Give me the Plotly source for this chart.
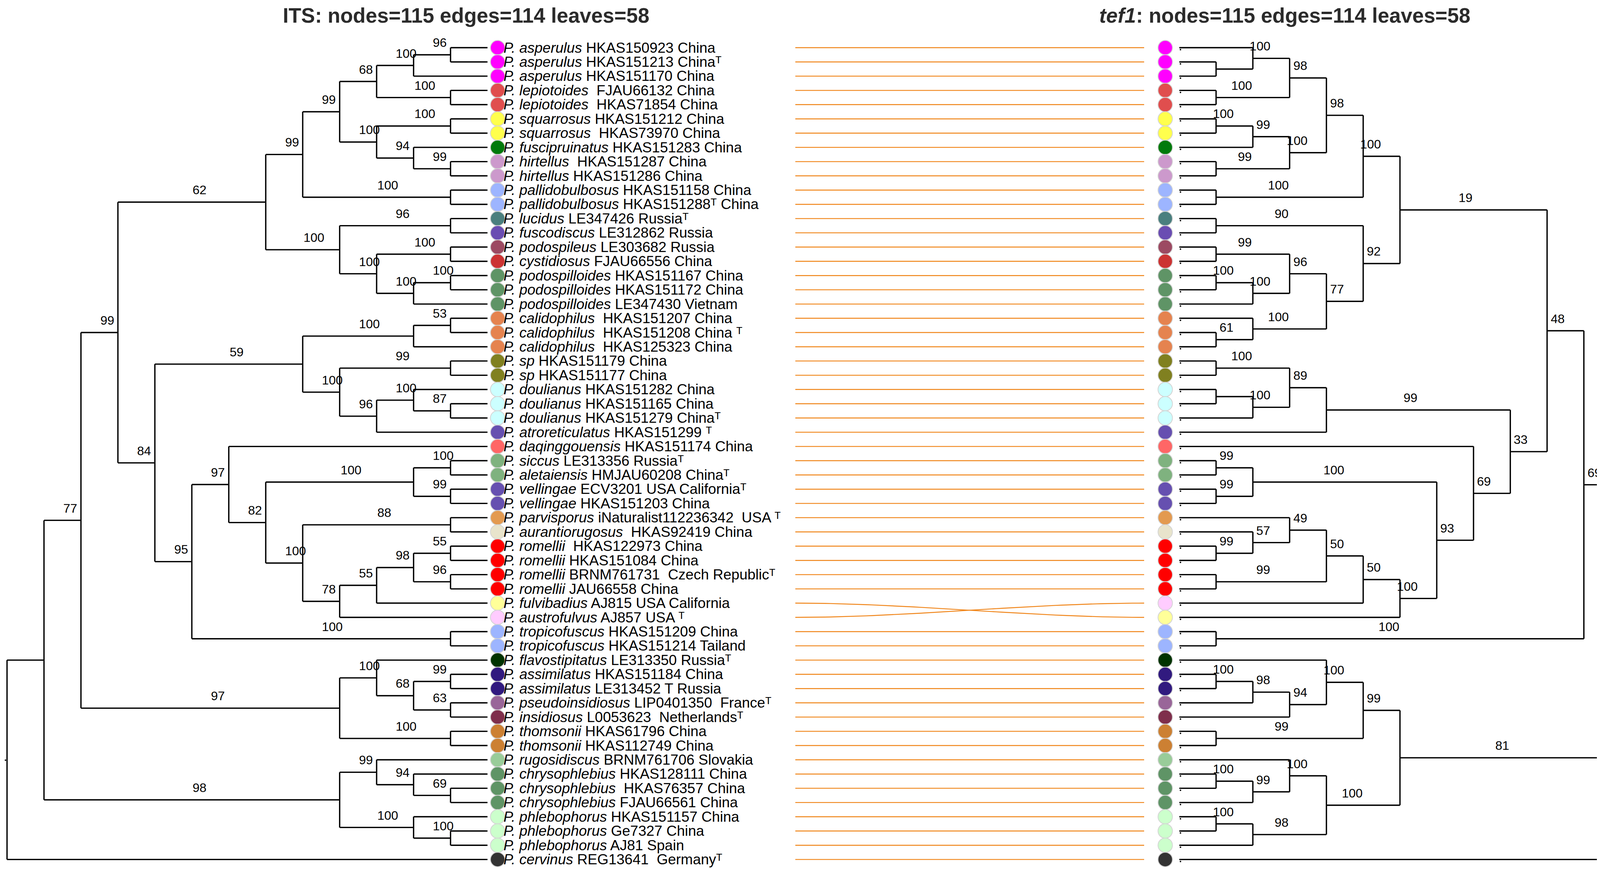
import numpy as np
import plotly.graph_objects as go

# ---------------- data ----------------
LEAF_SPECIES = [
    "asperulus", "asperulus", "asperulus", "lepiotoides", "lepiotoides",
    "squarrosus", "squarrosus", "fuscipruinatus", "hirtellus", "hirtellus",
    "pallidobulbosus", "pallidobulbosus", "lucidus", "fuscodiscus", "podospileus",
    "cystidiosus", "podospilloides", "podospilloides", "podospilloides", "calidophilus",
    "calidophilus", "calidophilus", "sp", "sp", "doulianus",
    "doulianus", "doulianus", "atroreticulatus", "daqinggouensis", "siccus",
    "aletaiensis", "vellingae", "vellingae", "parvisporus", "aurantiorugosus",
    "romellii", "romellii", "romellii", "romellii", "fulvibadius",
    "austrofulvus", "tropicofuscus", "tropicofuscus", "flavostipitatus", "assimilatus",
    "assimilatus", "pseudoinsidiosus", "insidiosus", "thomsonii", "thomsonii",
    "rugosidiscus", "chrysophlebius", "chrysophlebius", "chrysophlebius", "phlebophorus",
    "phlebophorus", "phlebophorus", "cervinus",
]

LEAF_VOUCHERS = [
    "HKAS150923 China", "HKAS151213 China\u1d40", "HKAS151170 China",
    "\u00a0FJAU66132 China", "\u00a0HKAS71854 China",
    "HKAS151212 China", "\u00a0HKAS73970 China", "HKAS151283 China",
    "\u00a0HKAS151287 China", "HKAS151286 China",
    "HKAS151158 China", "HKAS151288\u1d40 China", "LE347426 Russia\u1d40",
    "LE312862 Russia", "LE303682 Russia",
    "FJAU66556 China", "HKAS151167 China", "HKAS151172 China", "LE347430 Vietnam",
    "\u00a0HKAS151207 China",
    "\u00a0HKAS151208 China \u1d40", "\u00a0HKAS125323 China", "HKAS151179 China",
    "HKAS151177 China", "HKAS151282 China",
    "HKAS151165 China", "HKAS151279 China\u1d40", "HKAS151299 \u1d40",
    "HKAS151174 China", "LE313356 Russia\u1d40",
    "HMJAU60208 China\u1d40", "ECV3201 USA California\u1d40", "HKAS151203 China",
    "iNaturalist112236342 \u00a0USA \u1d40", "\u00a0HKAS92419 China",
    "\u00a0HKAS122973 China", "HKAS151084 China", "BRNM761731 \u00a0Czech Republic\u1d40",
    "JAU66558 China", "AJ815 USA California",
    "AJ857 USA \u1d40", "HKAS151209 China", "HKAS151214 Tailand",
    "LE313350 Russia\u1d40", "HKAS151184 China",
    "LE313452 T Russia", "LIP0401350 \u00a0France\u1d40", "L0053623 \u00a0Netherlands\u1d40",
    "HKAS61796 China", "HKAS112749 China",
    "BRNM761706 Slovakia", "HKAS128111 China", "\u00a0HKAS76357 China", "FJAU66561 China",
    "HKAS151157 China",
    "Ge7327 China", "AJ81 Spain", "REG13641 \u00a0Germany\u1d40",
]

SPECIES_COLORS = {
    "asperulus": "#FF00FF", "lepiotoides": "#E04E4E", "squarrosus": "#FFFF4D",
    "fuscipruinatus": "#007A0C", "hirtellus": "#CC99CC", "pallidobulbosus": "#9DB5FF",
    "lucidus": "#4A7F7E", "fuscodiscus": "#6A4DB2", "podospileus": "#9C4A62",
    "cystidiosus": "#CC3333", "podospilloides": "#5F9466", "calidophilus": "#E5834F",
    "sp": "#808020", "doulianus": "#CCFFFF", "atroreticulatus": "#6650B0",
    "daqinggouensis": "#FF6666", "siccus": "#7FB27F", "aletaiensis": "#7FB27F",
    "vellingae": "#6650B0", "parvisporus": "#E39A50", "aurantiorugosus": "#E8E4CC",
    "romellii": "#FF0000", "fulvibadius": "#FFFF99", "austrofulvus": "#FFCCFF",
    "tropicofuscus": "#9DB5FF", "flavostipitatus": "#003300", "assimilatus": "#311A7F",
    "pseudoinsidiosus": "#996699", "insidiosus": "#7F2F4C", "thomsonii": "#CC8033",
    "rugosidiscus": "#99CC99", "chrysophlebius": "#5F9466", "phlebophorus": "#CCFFCC",
    "cervinus": "#333333",
}

# ITS tree topology (leaf numbers = row in ITS tree), support values as internal labels
ITS_A = "((((1,2)96,3)100,(4,5)100)68,((6,7)100,(8,(9,10)99)94)100)99"
ITS_B = "((13,14)96,((15,16)100,((17,18)100,19)100)100)100"
ITS_C = "(((20,21)53,22)100,((23,24)99,((25,(26,27)87)100,28)96)100)59"
ITS_D = "((29,(((30,31)100,(32,33)99)100,((34,35)88,((((36,37)55,(38,39)96)98,40)55,41)78)100)82)97,(42,43)100)95"
ITS_E = "((44,((45,46)99,(47,48)63)68)100,(49,50)100)97"
ITS_F = "((51,(52,(53,54)69)94)99,(55,(56,57)100)100)98"
ITS_NEWICK = ("((((((" + ITS_A + ",(11,12)100)99," + ITS_B + ")62,(" + ITS_C + "," + ITS_D +
              ")84)99," + ITS_E + ")77," + ITS_F + "),58);")

# tef1 tree topology (same leaf numbers)
TEF_A = "(((1,(2,3))100,(4,5)100)98,(((6,7)100,8)99,(9,10)99)100)98"
TEF_D = "(((15,16)99,((17,18)100,19)100)96,(20,(21,22)61)100)77"
TEF_E = "((" + TEF_A + ",(11,12)100)100,((13,14)90," + TEF_D + ")92)19"
TEF_F = "(((23,24)100,((25,26),27)100)89,28)99"
TEF_H = "((((34,(35,(36,37)99)57)49,(38,39)99)50,41)50,40)100"
TEF_G = "(29,(((30,31)99,(32,33)99)100," + TEF_H + ")93)69"
TEF_J = "((44,(((45,46)100,47)98,48)94)100,(49,50)99)99"
TEF_K = "((51,((52,53)100,54)99)100,((55,56)100,57)98)100"
TEF1_NEWICK = ("((((" + TEF_E + ",(" + TEF_F + "," + TEF_G + ")33)48,(42,43)100)69,(" +
               TEF_J + "," + TEF_K + ")81),58);")

TITLE_LEFT = "<b>ITS: nodes=115 edges=114 leaves=58</b>"
TITLE_RIGHT = "<b><i>tef1</i>: nodes=115 edges=114 leaves=58</b>"

# ---------------- geometry / style ----------------
W, H = 4252, 2224
ROW_PX = 36.45
ROW1_PX = 114
LEFT_ROOT_X, LEFT_TIP_X = 10, 1240
RIGHT_ROOT_X, RIGHT_TIP_X = 4235, 3011
LEFT_DOT_X, RIGHT_DOT_X = 1266, 2975
LABEL_X = 1279
CONN_X0, CONN_X1 = 2028, 2921
FONT = "Liberation Sans, Arial, DejaVu Sans, sans-serif"


def parse_newick(s):
    s = s.strip().rstrip(";")
    pos = 0

    def read_token():
        nonlocal pos
        start = pos
        while pos < len(s) and s[pos] not in ",()":
            pos += 1
        return s[start:pos]

    def node():
        nonlocal pos
        if s[pos] == "(":
            pos += 1
            kids = [node()]
            while s[pos] == ",":
                pos += 1
                kids.append(node())
            pos += 1  # ')'
            return {"children": kids, "label": read_token()}
        return {"children": [], "leaf": int(read_token()), "label": ""}

    return node()


def layout(root):
    order = []

    def walk(n):
        if not n["children"]:
            order.append(n["leaf"])
            n["row"] = float(len(order))
            n["h"] = 0
        else:
            for c in n["children"]:
                walk(c)
            n["row"] = float(np.mean([c["row"] for c in n["children"]]))
            n["h"] = max(c["h"] for c in n["children"]) + 1

    walk(root)
    return order


def assign_x(root, x_root, x_tip):
    hmax = root["h"]
    step = (x_tip - x_root) / hmax

    def walk(n):
        n["x"] = x_root + (hmax - n["h"]) * step
        for c in n["children"]:
            walk(c)

    walk(root)


def collect(root):
    xs, ys, labels = [], [], []

    def walk(n):
        if not n["children"]:
            return
        rows = [c["row"] for c in n["children"]]
        xs.extend([n["x"], n["x"], None])
        ys.extend([min(rows), max(rows), None])
        for c in n["children"]:
            xs.extend([n["x"], c["x"], None])
            ys.extend([c["row"], c["row"], None])
            if c["label"]:
                labels.append(((n["x"] + c["x"]) / 2, c["row"], c["label"]))
            walk(c)

    walk(root)
    return xs, ys, labels


its = parse_newick(ITS_NEWICK)
tef = parse_newick(TEF1_NEWICK)
its_order = layout(its)
tef_order = layout(tef)
assign_x(its, LEFT_ROOT_X, LEFT_TIP_X)
assign_x(tef, RIGHT_ROOT_X, RIGHT_TIP_X)

its_row = {leaf: i + 1 for i, leaf in enumerate(its_order)}
tef_row = {leaf: i + 1 for i, leaf in enumerate(tef_order)}

# y axis in row units, mapped so row 1 -> ROW1_PX from top
y_top = 1 - ROW1_PX / ROW_PX
y_bot = y_top + H / ROW_PX

fig = go.Figure()

# connectors
for leaf in its_order:
    y0, y1 = its_row[leaf], tef_row[leaf]
    t = np.linspace(0, 1, 60)
    s = 3 * t ** 2 - 2 * t ** 3
    fig.add_trace(go.Scatter(
        x=CONN_X0 + t * (CONN_X1 - CONN_X0), y=y0 + (y1 - y0) * s,
        mode="lines", line=dict(color="#F08519", width=2.4),
        hoverinfo="skip", showlegend=False))

# tree branches
for root in (its, tef):
    xs, ys, labs = collect(root)
    fig.add_trace(go.Scatter(x=xs, y=ys, mode="lines",
                             line=dict(color="black", width=3.4),
                             hoverinfo="skip", showlegend=False))

# support labels
annotations = []
for root, anchor in ((its, "left"), (tef, "right")):
    _, _, labs = collect(root)
    for x, y, lab in labs:
        annotations.append(dict(x=x, y=y, xref="x", yref="y", text=lab,
                                showarrow=False, xanchor=anchor, yanchor="middle",
                                yshift=31, font=dict(family=FONT, size=32, color="black")))

# leaf labels (ITS side)
for leaf in its_order:
    i = leaf - 1
    txt = "<i>P. " + LEAF_SPECIES[i] + "</i> " + LEAF_VOUCHERS[i]
    annotations.append(dict(x=LABEL_X, y=its_row[leaf], xref="x", yref="y", text=txt,
                            showarrow=False, xanchor="left", yanchor="middle",
                            font=dict(family=FONT, size=37, color="black")))

# coloured tip dots
for order, dot_x in ((its_order, LEFT_DOT_X), (tef_order, RIGHT_DOT_X)):
    fig.add_trace(go.Scatter(
        x=[dot_x] * len(order), y=[i + 1 for i in range(len(order))],
        mode="markers",
        marker=dict(size=37, color=[SPECIES_COLORS[LEAF_SPECIES[l - 1]] for l in order],
                    line=dict(color="#D4D4D4", width=2)),
        hoverinfo="skip", showlegend=False))

# tiny tip points on tef1 side and root points
fig.add_trace(go.Scatter(
    x=[RIGHT_TIP_X + 3] * len(tef_order), y=[i + 1.14 for i in range(len(tef_order))],
    mode="markers", marker=dict(size=4, color="black"),
    hoverinfo="skip", showlegend=False))
fig.add_trace(go.Scatter(
    x=[LEFT_ROOT_X - 4, RIGHT_ROOT_X + 6], y=[its["row"] + 0.03, tef["row"] + 0.18],
    mode="markers", marker=dict(size=4, color="black"),
    hoverinfo="skip", showlegend=False))

# titles
for cx, title in ((1185, TITLE_LEFT), (3281, TITLE_RIGHT)):
    annotations.append(dict(x=cx, y=1, xref="x", yref="paper", text=title,
                            showarrow=False, xanchor="center", yanchor="top",
                            font=dict(family=FONT, size=53, color="#2b2b2b")))

fig.update_layout(
    width=W, height=H, autosize=False,
    margin=dict(l=0, r=0, t=0, b=0),
    paper_bgcolor="white", plot_bgcolor="white",
    annotations=annotations,
    xaxis=dict(range=[0, W], visible=False, fixedrange=True),
    yaxis=dict(range=[y_bot, y_top], visible=False, fixedrange=True),
)

fig.write_html("out.html")
